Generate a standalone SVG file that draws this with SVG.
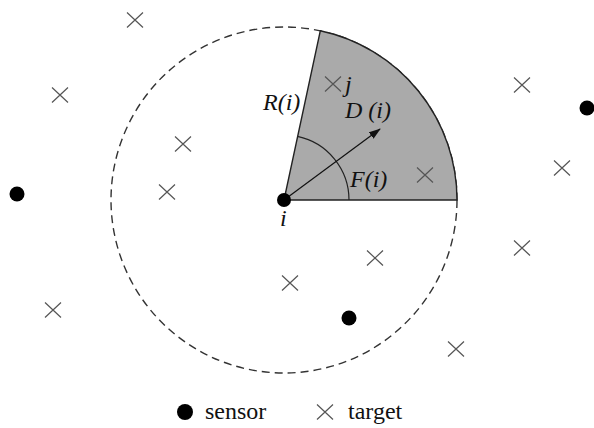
<svg xmlns="http://www.w3.org/2000/svg" width="594" height="428" viewBox="0 0 594 428">
<defs>
<style>
.t{stroke:#555;stroke-width:1.2;fill:none}
.s{fill:#000}
.lab{font-family:"Liberation Serif",serif;font-style:italic;font-size:24px;fill:#111}
.leg{font-family:"Liberation Serif",serif;font-size:24px;fill:#111}
</style>
<symbol id="x" overflow="visible"><path class="t" d="M-8,-7.5L8,7.5M-8,7.5L8,-7.5"/></symbol>
<marker id="ah" markerWidth="12" markerHeight="8" refX="11" refY="4" orient="auto" markerUnits="userSpaceOnUse"><path d="M0,0L12,4L0,8z" fill="#111"/></marker>
</defs>
<rect width="594" height="428" fill="#fff"/>
<g id="range">
<circle cx="284" cy="200" r="173" fill="none" stroke="#333" stroke-width="1.4" stroke-dasharray="8,5"/>
</g>
<g id="sector">
<path d="M284,200L457,200A173,173 0 0 0 320.3,30.8Z" fill="#aaa" stroke="#222" stroke-width="1.4"/>
<path d="M349,200A65,65 0 0 0 297.5,136.4" fill="none" stroke="#222" stroke-width="1.2"/>
</g>
<g id="connectors">
<line x1="284" y1="200" x2="380" y2="129" stroke="#111" stroke-width="1.2" marker-end="url(#ah)"/>
</g>
<g id="labels">
<text class="lab" x="263" y="110">R(i)</text>
<text class="lab" x="345" y="118">D (i)</text>
<text class="lab" x="350" y="187">F(i)</text>
<text class="lab" x="345" y="92">j</text>
<text class="lab" x="280" y="226">i</text>
</g>
<g id="sensors">
<circle class="s" cx="284" cy="200" r="7"/>
<circle class="s" cx="17" cy="194" r="7.5"/>
<circle class="s" cx="587" cy="108" r="7.5"/>
<circle class="s" cx="349" cy="318" r="7.5"/>
</g>
<g id="targets">
<use href="#x" x="135" y="20"/>
<use href="#x" x="60" y="95"/>
<use href="#x" x="183" y="144"/>
<use href="#x" x="167" y="192"/>
<use href="#x" x="333" y="84"/>
<use href="#x" x="425" y="175"/>
<use href="#x" x="522" y="85"/>
<use href="#x" x="562" y="168"/>
<use href="#x" x="522" y="248"/>
<use href="#x" x="375" y="258"/>
<use href="#x" x="290" y="283"/>
<use href="#x" x="53" y="310"/>
<use href="#x" x="456" y="349"/>
</g>
<g id="legend">
<circle class="s" cx="185" cy="412" r="8"/>
<text class="leg" x="205" y="419">sensor</text>
<use href="#x" x="325" y="412"/>
<text class="leg" x="348" y="419">target</text>
</g>
</svg>
